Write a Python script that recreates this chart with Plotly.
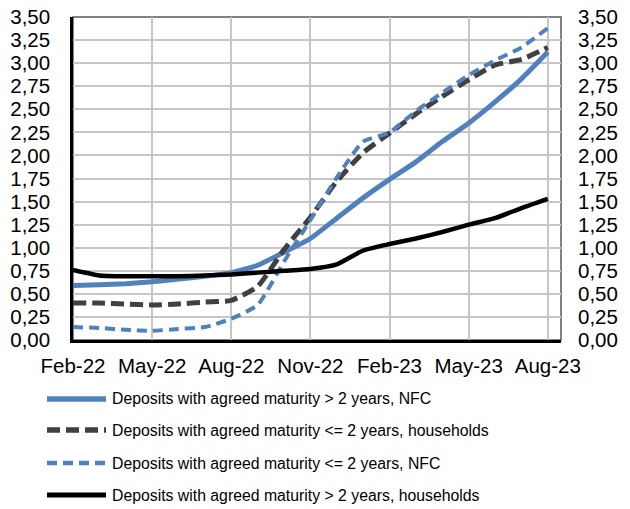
import plotly.graph_objects as go

months = ["Feb-22", "Mar-22", "Apr-22", "May-22", "Jun-22", "Jul-22", "Aug-22",
          "Sep-22", "Oct-22", "Nov-22", "Dec-22", "Jan-23", "Feb-23", "Mar-23",
          "Apr-23", "May-23", "Jun-23", "Jul-23", "Aug-23"]
tick_labels = ["Feb-22", "May-22", "Aug-22", "Nov-22", "Feb-23", "May-23", "Aug-23"]
y_ticks = [0, 0.25, 0.5, 0.75, 1.0, 1.25, 1.5, 1.75, 2.0, 2.25, 2.5, 2.75, 3.0, 3.25, 3.5]

nfc_long = [0.59, 0.60, 0.61, 0.63, 0.66, 0.69, 0.73, 0.81, 0.95, 1.10, 1.32, 1.54,
            1.74, 1.93, 2.15, 2.35, 2.58, 2.83, 3.12]
hh_short = [0.40, 0.40, 0.39, 0.38, 0.39, 0.41, 0.43, 0.58, 0.98, 1.33, 1.72, 2.03,
            2.24, 2.45, 2.64, 2.82, 2.98, 3.04, 3.17]
nfc_short = [0.14, 0.13, 0.11, 0.10, 0.12, 0.14, 0.23, 0.38, 0.85, 1.30, 1.76, 2.15,
             2.25, 2.48, 2.68, 2.87, 3.03, 3.17, 3.38]
hh_long = [0.76, 0.70, 0.69, 0.69, 0.69, 0.70, 0.71, 0.73, 0.75, 0.77, 0.82, 0.97,
           1.04, 1.10, 1.17, 1.25, 1.32, 1.43, 1.53]

names = ["Deposits with agreed maturity > 2 years, NFC",
         "Deposits with agreed maturity <= 2 years, households",
         "Deposits with agreed maturity <= 2 years, NFC",
         "Deposits with agreed maturity > 2 years, households"]

BLUE = "#4F81BD"
DARK = "#404040"
styles = [
    dict(color=BLUE, width=5, dash="solid"),
    dict(color=DARK, width=5, dash="13px,6px"),
    dict(color=BLUE, width=4, dash="10px,6px"),
    dict(color="#000000", width=4.5, dash="solid"),
]
series = [nfc_long, hh_short, nfc_short, hh_long]

x_idx = list(range(len(months)))
tick_idx = [months.index(t) for t in tick_labels]

fig = go.Figure()
for name, vals, st in zip(names, series, styles):
    fig.add_trace(go.Scatter(x=x_idx, y=vals, mode="lines", name=name,
                             line=dict(color=st["color"], width=st["width"], dash=st["dash"],
                                       shape="spline", smoothing=0.5),
                             showlegend=False, hoverinfo="skip"))
# empty trace to activate the right-hand axis
fig.add_trace(go.Scatter(x=[], y=[], yaxis="y2", showlegend=False, hoverinfo="skip"))

FONT = "Liberation Sans, Arial, sans-serif"
TICK_SIZE = 20.5
W, H = 630, 509
L, R, T, B = 73, 69, 17, 169
PW, PH = W - L - R, H - T - B

def px_x(p):
    return (p - L) / PW

def px_y(p):
    return (H - B - p) / PH

# manual legend (line samples + text)
leg_rows = [399, 430, 463, 495]
shapes = []
annotations = []
for name, st, ry in zip(names, styles, leg_rows):
    shapes.append(dict(type="line", xref="paper", yref="paper",
                       x0=px_x(47), x1=px_x(106), y0=px_y(ry), y1=px_y(ry),
                       line=dict(color=st["color"], width=st["width"] + 0.5,
                                 dash=st["dash"])))
    annotations.append(dict(xref="paper", yref="paper", x=px_x(110), y=px_y(ry),
                            xanchor="left", yanchor="middle", text=name, showarrow=False,
                            font=dict(family=FONT, size=15.8, color="#000000")))
# plot-area border (top and right)
shapes.append(dict(type="rect", xref="paper", yref="paper", x0=0, x1=1, y0=0, y1=1,
                   line=dict(color="#595959", width=1.5), layer="below"))

fig.update_layout(
    width=W, height=H,
    margin=dict(l=L, r=R, t=T, b=B, autoexpand=False),
    paper_bgcolor="white", plot_bgcolor="white",
    separators=",.",
    font=dict(family=FONT, size=TICK_SIZE, color="#000000"),
    shapes=shapes, annotations=annotations,
    xaxis=dict(range=[0, len(months) - 0.5], tickmode="array", tickvals=tick_idx,
               ticktext=tick_labels, showgrid=True, gridcolor="#C6C6C6", gridwidth=2,
               showline=True, linecolor="#000000", linewidth=2.5, ticks="",
               zeroline=False, ticklabelstandoff=6, automargin=False,
               tickfont=dict(family=FONT, size=TICK_SIZE, color="#000000")),
    yaxis=dict(range=[0, 3.5], tickmode="array", tickvals=y_ticks, tickformat=".2f",
               showgrid=True, gridcolor="#C6C6C6", gridwidth=2,
               showline=True, linecolor="#000000", linewidth=2.5, ticks="",
               zeroline=False, ticklabelstandoff=16, automargin=False,
               tickfont=dict(family=FONT, size=TICK_SIZE, color="#000000")),
    yaxis2=dict(range=[0, 3.5], overlaying="y", side="right", tickmode="array",
                tickvals=y_ticks, tickformat=".2f", showgrid=False, showline=False,
                ticks="", zeroline=False, ticklabelstandoff=16, automargin=False,
                tickfont=dict(family=FONT, size=TICK_SIZE, color="#000000")),
)

fig.write_html("out.html", config={"displayModeBar": False},
               post_script="document.body.style.margin='0';")
